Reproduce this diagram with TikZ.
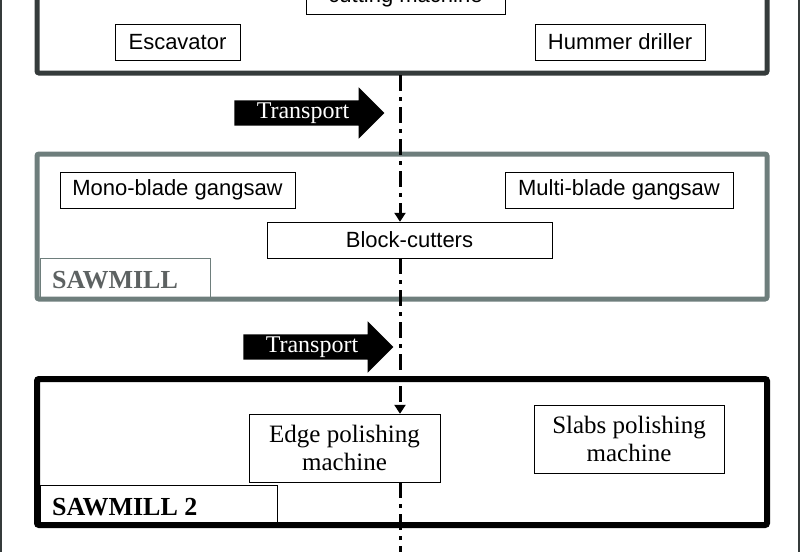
\documentclass[tikz,border=0pt]{standalone}
\usepackage{fontspec}
\setmainfont{Liberation Serif}
\newfontfamily\arialfont{Liberation Sans}
\usetikzlibrary{arrows.meta,positioning,shapes.arrows}
\definecolor{darkframe}{HTML}{353B3B}
\definecolor{millgray}{HTML}{6E7E7C}
\tikzset{
    machine/.style={draw, thin, fill=white, font=\arialfont\fontsize{22}{26}\selectfont, inner sep=0pt},
    serifmachine/.style={draw, thin, fill=white, font=\fontsize{25}{28}\selectfont, align=center, inner sep=0pt},
    transport/.style={single arrow, fill=black, text=white, font=\fontsize{24}{28}\selectfont,
        single arrow head extend=13pt, minimum height=150pt, minimum width=30pt, inner sep=2pt},
    flow/.style={line width=3pt, dash pattern=on 16pt off 6pt on 4pt off 6pt},
    millbox/.style={line width=5pt, rounded corners=2pt},
    tag/.style={anchor=south west, font=\bfseries\fontsize{26}{30}\selectfont, inner sep=0pt}
}
\begin{document}
\begin{tikzpicture}[x=1pt, y=-1pt]
    \useasboundingbox (0,0) rectangle (800,552);
    \clip (0,0) rectangle (800,552);
    % outer frame
    \draw[darkframe, line width=1.5pt] (1,0) -- (1,552);
    \draw[darkframe, line width=1.5pt] (799,0) -- (799,552);

    % Quarry
    \draw[millbox, darkframe] (37,-20) rectangle (767,73);
    \node[machine, minimum width=199pt, minimum height=34pt] (cutting) at (405.5,-3) {cutting machine};
    \node[machine, minimum width=125pt, minimum height=36pt] (escavator) at (177.5,42) {Escavator};
    \node[machine, minimum width=170pt, minimum height=36pt] (hummer) at (620,42) {Hummer driller};
    \coordinate (quarryout) at (400,75);

    \node[transport] (transport1) at (303,113) {Transport};

    % Sawmill
    \draw[millbox, millgray] (37,154) rectangle (767,299);
    \node[machine, minimum width=235pt, minimum height=36pt] (monoblade) at (177.5,190) {Mono-blade gangsaw};
    \node[machine, minimum width=228pt, minimum height=36pt] (multiblade) at (619,190) {Multi-blade gangsaw};
    \node[machine, minimum width=285pt, minimum height=36pt] (blockcutters) at (409.5,240) {Block-cutters};
    \draw[millgray, thin] (40,297) |- (210,258) -- (210,297);
    \node[tag, text=darkframe!80] (sawmill) at (52,289) {SAWMILL};

    \node[transport] (transport2) at (312,347) {Transport};

    % Sawmill 2
    \draw[millbox, black, line width=6pt] (37,379) rectangle (767,525);
    \node[serifmachine, minimum width=191pt, minimum height=68pt] (edge) at (344.5,448) {Edge polishing\\machine};
    \node[serifmachine, minimum width=190pt, minimum height=68pt] (slabs) at (629,439) {Slabs polishing\\machine};
    \draw[thin] (40,522) |- (277,485) -- (277,522);
    \node[tag] (sawmill2) at (52,516) {SAWMILL 2};
    \coordinate (millout) at (400,552);

    % Flow line
    \draw[flow, -{Triangle[width=11pt,length=9pt]}] (quarryout) -- (blockcutters.north -| quarryout);
    \draw[flow, -{Triangle[width=11pt,length=9pt]}] (blockcutters.south -| quarryout) -- (edge.north -| quarryout);
    \draw[flow] (edge.south -| quarryout) -- (millout);
\end{tikzpicture}
\end{document}
